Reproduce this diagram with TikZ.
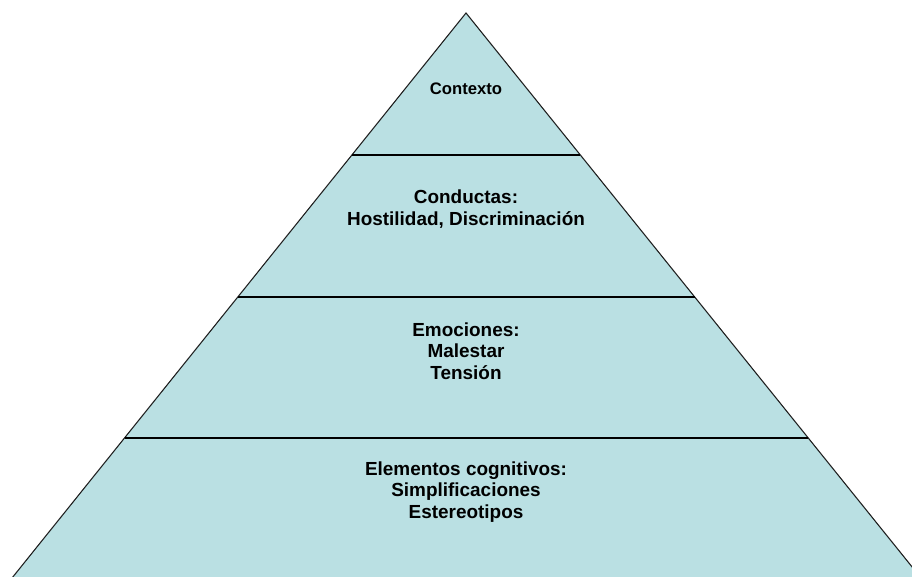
\documentclass[tikz,border=0pt]{standalone}
\usepackage{fontspec}
\setmainfont{Liberation Sans}
\usetikzlibrary{calc}
\definecolor{pyrfill}{RGB}{186,224,227}
\definecolor{pyrline}{RGB}{30,30,30}
\tikzset{
  lbl/.style={align=center, font=\bfseries\fontsize{14.2}{16.3}\selectfont, text=black, inner sep=0pt},
  lblsmall/.style={align=center, font=\bfseries\fontsize{12.5}{14}\selectfont, text=black, inner sep=0pt},
  divider/.style={draw=black, line width=1.1pt},
  outline/.style={draw=pyrline, line width=0.8pt, fill=pyrfill}
}
\begin{document}
\begin{tikzpicture}[x=0.75pt, y=-0.75pt]
\useasboundingbox (0,0) rectangle (912,577);
\clip (0,0) rectangle (912,577);
\coordinate (apex) at (466,13);
\coordinate (bl) at (12,578);
\coordinate (br) at (921,578);
\draw[outline] (apex) -- (br) -- (bl) -- cycle;
\draw[divider] ($(apex)!0.2513!(bl)$) -- ($(apex)!0.2513!(br)$);
\draw[divider] ($(apex)!0.5027!(bl)$) -- ($(apex)!0.5027!(br)$);
\draw[divider] ($(apex)!0.7522!(bl)$) -- ($(apex)!0.7522!(br)$);
\node[lblsmall] (contexto) at (466,89) {Contexto};
\node[lbl] (conductas) at (466,209) {Conductas:\\Hostilidad, Discriminación};
\node[lbl] (emociones) at (466,351) {Emociones:\\Malestar\\Tensión};
\node[lbl] (elementos) at (466,492) {Elementos cognitivos:\\Simplificaciones\\Estereotipos};
\end{tikzpicture}
\end{document}
